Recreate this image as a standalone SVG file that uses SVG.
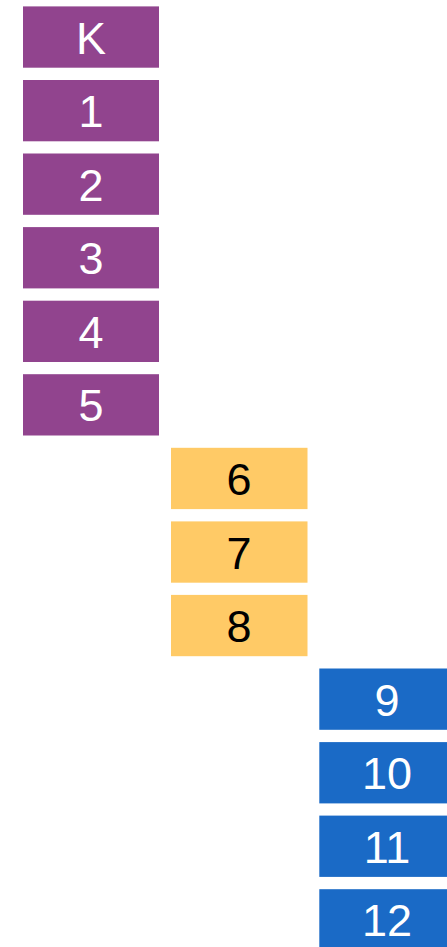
<svg xmlns="http://www.w3.org/2000/svg" width="447" height="947" viewBox="0 0 447 947">
<style>
.p rect{fill:#91448E}
.y rect{fill:#FFCA66}
.b rect{fill:#1A6AC6}
text{font-family:"Liberation Sans",Arial,sans-serif;font-size:45px;text-anchor:middle}
.p text,.b text{fill:#fff}
.y text{fill:#000}
</style>
<rect width="447" height="947" fill="#fff"/>
<g id="connectors"/>
<g id="nK" class="p"><rect x="23" y="6.4" width="136" height="61.3"/><text x="91" y="53.5">K</text></g>
<g id="n1" class="p"><rect x="23" y="80" width="136" height="61.3"/><text x="91" y="127.1">1</text></g>
<g id="n2" class="p"><rect x="23" y="153.5" width="136" height="61.3"/><text x="91" y="200.6">2</text></g>
<g id="n3" class="p"><rect x="23" y="227.1" width="136" height="61.3"/><text x="91" y="274.2">3</text></g>
<g id="n4" class="p"><rect x="23" y="300.7" width="136" height="61.3"/><text x="91" y="347.8">4</text></g>
<g id="n5" class="p"><rect x="23" y="374.2" width="136" height="61.3"/><text x="91" y="421.3">5</text></g>
<g id="n6" class="y"><rect x="171" y="447.8" width="136.5" height="61.3"/><text x="239" y="494.9">6</text></g>
<g id="n7" class="y"><rect x="171" y="521.4" width="136.5" height="61.3"/><text x="239" y="568.5">7</text></g>
<g id="n8" class="y"><rect x="171" y="594.9" width="136.5" height="61.3"/><text x="239" y="642">8</text></g>
<g id="n9" class="b"><rect x="319.3" y="668.5" width="128" height="61.3"/><text x="387" y="715.6">9</text></g>
<g id="n10" class="b"><rect x="319.3" y="742.1" width="128" height="61.3"/><text x="387" y="789.2">10</text></g>
<g id="n11" class="b"><rect x="319.3" y="815.6" width="128" height="61.3"/><text x="387" y="862.7">11</text></g>
<g id="n12" class="b"><rect x="319.3" y="889.2" width="128" height="61.3"/><text x="387" y="936.3">12</text></g>
</svg>
